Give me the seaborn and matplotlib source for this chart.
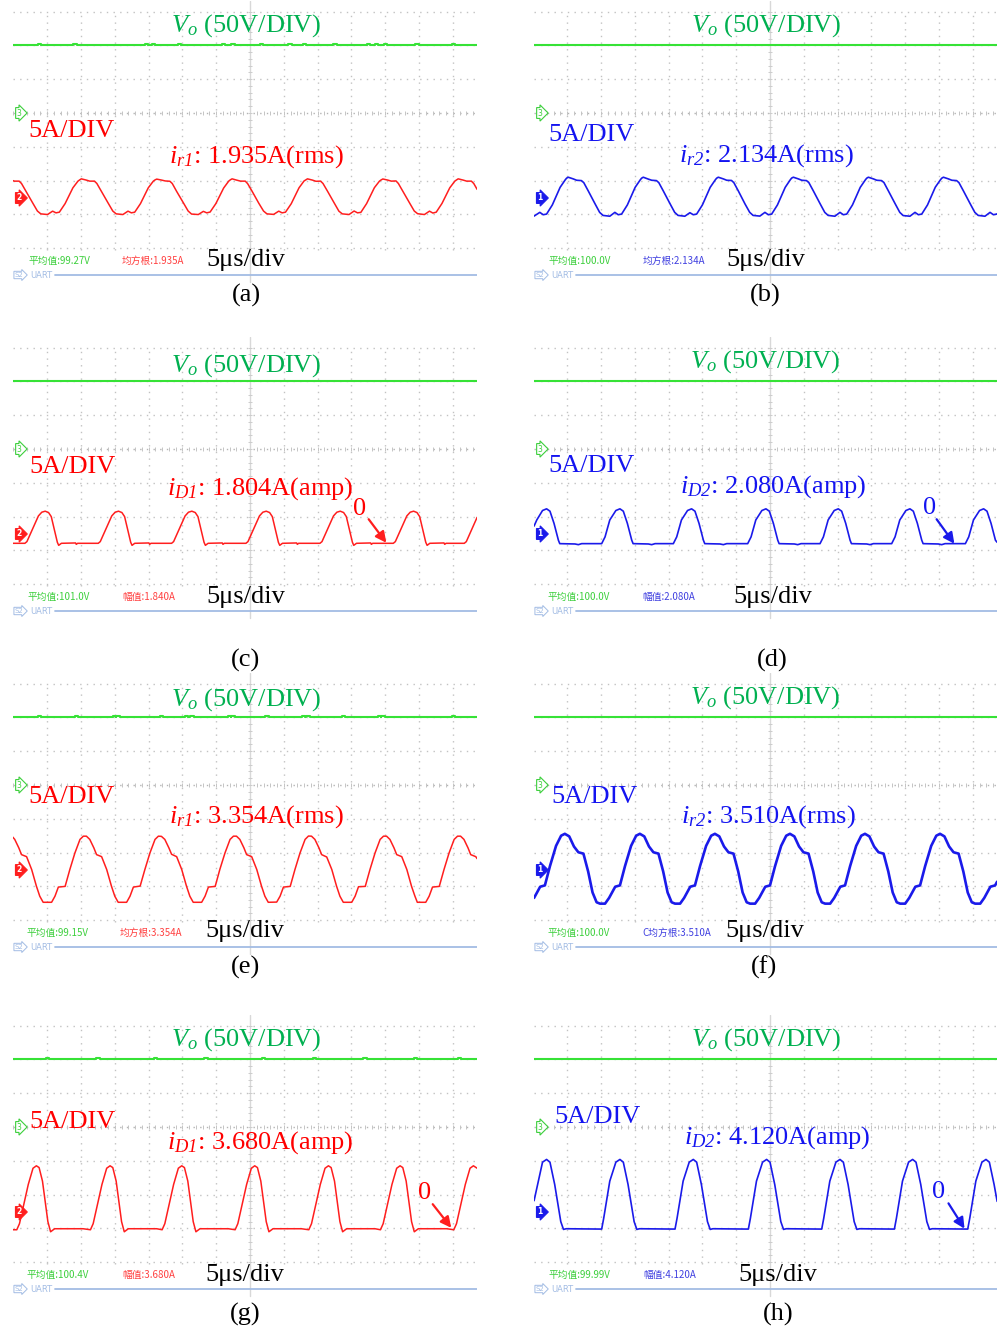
import numpy as np
import matplotlib
matplotlib.use("Agg")
import matplotlib.pyplot as plt
import seaborn as sns

sns.set_style("white")
plt.rcParams['font.family'] = ['Liberation Serif', 'DejaVu Serif']
plt.rcParams['mathtext.fontset'] = 'custom'
plt.rcParams['mathtext.rm'] = 'Liberation Serif'
plt.rcParams['mathtext.it'] = 'Liberation Serif:italic'
plt.rcParams['mathtext.sf'] = 'Liberation Serif:italic'
plt.rcParams['mathtext.bf'] = 'Liberation Serif:bold'

# ---------------- data (time in us, 0 = screen centre; current in A; voltage in V) ----------------
A_T = [-35.1, -34.85, -34.15, -33.8, -33.15, -32.15, -31.45, -30.95, -29.95, -29.2, -28.7, -28.2, -27.35, -26.2, -25.45,
       -25.2, -24.95, -24.2, -23.7, -23.0, -22.65, -22.0, -21.0, -20.3, -19.8, -18.8, -18.05, -17.55, -17.05, -16.2, -15.05, -14.3,
       -14.05, -13.8, -13.05, -12.55, -11.85, -11.5, -10.85, -9.85, -9.15, -8.65, -7.65, -6.9, -6.4, -5.9, -5.05, -3.9, -3.15,
       -2.9, -2.65, -1.9, -1.4, -0.7, -0.35, 0.3, 1.3, 2.0, 2.5, 3.5, 4.25, 4.75, 5.25, 6.1, 7.25, 8.0,
       8.25, 8.5, 9.25, 9.75, 10.45, 10.8, 11.45, 12.45, 13.15, 13.65, 14.65, 15.4, 15.9, 16.4, 17.25, 18.4, 19.15,
       19.4, 19.65, 20.4, 20.9, 21.6, 21.95, 22.6, 23.6, 24.3, 24.8, 25.8, 26.55, 27.05, 27.55, 28.4, 29.55, 30.3,
       30.55, 30.8, 31.55, 32.05, 32.75, 33.1, 33.6]
A_I = [2.5, 2.42, 2.42, 2.07, 0.94, -0.8, -2.0, -2.42, -2.52, -2.02, -2.27, -2.17, -0.9, 1.43, 2.42,
       2.6, 2.76, 2.57, 2.42, 2.42, 2.07, 0.94, -0.8, -2.0, -2.42, -2.52, -2.02, -2.27, -2.17, -0.9, 1.43, 2.42,
       2.6, 2.72, 2.57, 2.45, 2.4, 2.07, 0.9, -0.8, -2.0, -2.45, -2.52, -2.05, -2.27, -2.15, -0.9, 1.4, 2.42,
       2.62, 2.76, 2.55, 2.42, 2.42, 2.05, 0.94, -0.85, -2.0, -2.42, -2.5, -2.02, -2.27, -2.17, -0.92, 1.43, 2.45,
       2.6, 2.76, 2.57, 2.4, 2.42, 2.07, 0.96, -0.8, -2.02, -2.42, -2.52, -2.0, -2.27, -2.2, -0.9, 1.45, 2.42,
       2.6, 2.74, 2.57, 2.42, 2.45, 2.07, 0.94, -0.8, -2.0, -2.4, -2.52, -2.02, -2.3, -2.17, -0.88, 1.43, 2.42,
       2.6, 2.76, 2.57, 2.42, 2.42, 2.07, 1.2]

B_T = [-34.9, -34.05, -33.55, -33.05, -32.2, -31.05, -30.3,
       -30.1, -29.85, -29.1, -28.6, -27.9, -27.55, -26.9, -25.9, -25.2, -24.7, -23.7, -22.95, -22.45, -21.95, -21.1, -19.95, -19.2,
       -19.0, -18.75, -18.0, -17.5, -16.8, -16.45, -15.8, -14.8, -14.1, -13.6, -12.6, -11.85, -11.35, -10.85, -10.0, -8.85, -8.1,
       -7.9, -7.65, -6.9, -6.4, -5.7, -5.35, -4.7, -3.7, -3.0, -2.5, -1.5, -0.75, -0.25, 0.25, 1.1, 2.25, 3.0,
       3.2, 3.45, 4.2, 4.7, 5.4, 5.75, 6.4, 7.4, 8.1, 8.6, 9.6, 10.35, 10.85, 11.35, 12.2, 13.35, 14.1,
       14.3, 14.55, 15.3, 15.8, 16.5, 16.85, 17.5, 18.5, 19.2, 19.7, 20.7, 21.45, 21.95, 22.45, 23.3, 24.45, 25.2,
       25.4, 25.65, 26.4, 26.9, 27.6, 27.95, 28.6, 29.6, 30.3, 30.8, 31.8, 32.55, 33.05, 33.55, 33.6]
B_I = [-2.75, -2.2, -2.55, -2.45, -1.1, 1.5, 2.6,
       2.85, 3.0, 2.75, 2.55, 2.5, 2.2, 1.0, -0.9, -2.2, -2.65, -2.77, -2.2, -2.55, -2.45, -1.1, 1.5, 2.6,
       2.85, 3.0, 2.72, 2.55, 2.5, 2.2, 1.0, -0.9, -2.2, -2.65, -2.77, -2.25, -2.55, -2.45, -1.1, 1.5, 2.6,
       2.85, 3.0, 2.75, 2.55, 2.52, 2.2, 1.0, -0.95, -2.2, -2.65, -2.75, -2.2, -2.55, -2.45, -1.1, 1.5, 2.62,
       2.87, 3.0, 2.75, 2.55, 2.5, 2.2, 1.0, -0.9, -2.2, -2.65, -2.77, -2.2, -2.55, -2.45, -1.1, 1.5, 2.6,
       2.85, 3.0, 2.75, 2.55, 2.5, 2.22, 1.0, -0.9, -2.2, -2.67, -2.77, -2.2, -2.55, -2.45, -1.1, 1.52, 2.6,
       2.85, 3.0, 2.75, 2.55, 2.5, 2.2, 1.0, -0.9, -2.2, -2.65, -2.77, -2.2, -2.55, -2.45, -2.4]

C_T = [-35.1,
       -33.3, -33.0, -31.3, -30.8, -30.3, -29.8, -29.4, -28.5, -28.3, -27.9, -25.8, -25.7, -25.5,
       -22.45, -22.15, -20.45, -19.95, -19.45, -18.95, -18.55, -17.65, -17.45, -17.05, -14.95, -14.85, -14.65,
       -11.6, -11.3, -9.6, -9.1, -8.6, -8.1, -7.7, -6.8, -6.6, -6.2, -4.1, -4.0, -3.8,
       -0.6, -0.3, 1.4, 1.9, 2.4, 2.9, 3.3, 4.2, 4.4, 4.8, 6.9, 7.0, 7.2,
       10.35, 10.65, 12.35, 12.85, 13.35, 13.85, 14.25, 15.15, 15.35, 15.75, 17.85, 17.95, 18.15,
       21.2, 21.5, 23.2, 23.7, 24.2, 24.7, 25.1, 26.0, 26.2, 26.6, 28.7, 28.8, 29.0,
       31.7, 32.0, 33.6]
C_I = [-1.45,
       -1.45, -1.2, 2.6, 3.15, 3.3, 3.1, 2.5, -1.3, -1.75, -1.45, -1.4, -1.6, -1.45,
       -1.45, -1.2, 2.6, 3.15, 3.3, 3.1, 2.5, -1.3, -1.75, -1.45, -1.4, -1.6, -1.45,
       -1.45, -1.2, 2.6, 3.15, 3.3, 3.1, 2.5, -1.3, -1.75, -1.45, -1.4, -1.6, -1.45,
       -1.45, -1.2, 2.6, 3.15, 3.3, 3.1, 2.5, -1.3, -1.75, -1.45, -1.4, -1.6, -1.45,
       -1.45, -1.2, 2.6, 3.15, 3.3, 3.1, 2.5, -1.3, -1.75, -1.45, -1.4, -1.6, -1.45,
       -1.45, -1.2, 2.6, 3.15, 3.3, 3.1, 2.5, -1.3, -1.75, -1.45, -1.4, -1.6, -1.45,
       -1.45, -1.2, 2.4]

D_T = [-34.9, -34.5, -33.65, -33.05, -32.55, -31.95, -31.3, -31.1, -28.85, -28.35, -27.85,
       -24.9, -24.4, -23.7, -22.8, -22.2, -21.7, -21.1, -20.45, -20.25, -18.0, -17.5, -17.0,
       -14.3, -13.8, -13.1, -12.2, -11.6, -11.1, -10.5, -9.85, -9.65, -7.4, -6.9, -6.4,
       -3.3, -2.8, -2.1, -1.2, -0.6, -0.1, 0.5, 1.15, 1.35, 3.6, 4.1, 4.6,
       7.4, 7.9, 8.6, 9.5, 10.1, 10.6, 11.2, 11.85, 12.05, 14.3, 14.8, 15.3,
       18.0, 18.5, 19.2, 20.1, 20.7, 21.2, 21.8, 22.45, 22.65, 24.9, 25.4, 25.9,
       28.9, 29.4, 30.1, 31.0, 31.6, 32.1, 32.7, 33.35, 33.6]
D_I = [1.1, 2.0, 3.4, 3.65, 3.3, 1.5, -1.0, -1.5, -1.55, -1.65, -1.5,
       -1.5, -0.5, 2.0, 3.4, 3.65, 3.3, 1.5, -1.0, -1.5, -1.55, -1.65, -1.5,
       -1.5, -0.5, 2.0, 3.4, 3.65, 3.3, 1.5, -1.0, -1.5, -1.55, -1.65, -1.5,
       -1.5, -0.5, 2.0, 3.4, 3.65, 3.3, 1.5, -1.0, -1.5, -1.55, -1.65, -1.5,
       -1.5, -0.5, 2.0, 3.4, 3.65, 3.3, 1.5, -1.0, -1.5, -1.55, -1.65, -1.5,
       -1.5, -0.5, 2.0, 3.4, 3.65, 3.3, 1.5, -1.0, -1.5, -1.55, -1.65, -1.5,
       -1.5, -0.5, 2.0, 3.4, 3.65, 3.3, 1.5, -1.0, -1.3]

E_T = [-35.1, -34.8, -34.2, -33.8, -33.05, -32.3, -31.6, -31.1,
       -30.6, -29.35, -28.85, -28.35, -27.35, -26.65, -25.9, -25.15, -24.65, -24.2, -23.7, -23.1, -22.7, -21.95, -21.2, -20.5, -20.0,
       -19.5, -18.25, -17.75, -17.25, -16.25, -15.55, -14.8, -14.05, -13.55, -13.1, -12.6, -12.0, -11.6, -10.85, -10.1, -9.4, -8.9,
       -8.4, -7.15, -6.65, -6.15, -5.15, -4.45, -3.7, -2.95, -2.45, -2.0, -1.5, -0.9, -0.5, 0.25, 1.0, 1.7, 2.2,
       2.7, 3.95, 4.45, 4.95, 5.95, 6.65, 7.4, 8.15, 8.65, 9.1, 9.6, 10.2, 10.6, 11.35, 12.1, 12.8, 13.3,
       13.8, 15.05, 15.55, 16.05, 17.05, 17.75, 18.5, 19.25, 19.75, 20.2, 20.7, 21.3, 21.7, 22.45, 23.2, 23.9, 24.4,
       24.75, 26.0, 26.5, 27.0, 28.0, 28.7, 29.45, 30.2, 30.7, 31.15, 31.65, 32.25, 32.65, 33.4, 33.6]
E_I = [4.8, 4.45, 3.2, 2.2, 1.9, 0.0, -2.45, -3.95,
       -4.85, -4.85, -3.95, -2.6, -2.5, 0.0, 2.45, 4.45, 4.93, 4.93, 4.45, 3.2, 2.2, 1.9, 0.0, -2.45, -3.95,
       -4.85, -4.85, -3.95, -2.6, -2.45, 0.0, 2.45, 4.45, 4.93, 4.9, 4.45, 3.2, 2.25, 1.9, 0.0, -2.45, -3.95,
       -4.85, -4.85, -3.95, -2.6, -2.5, 0.05, 2.45, 4.45, 4.93, 4.93, 4.45, 3.2, 2.2, 1.9, 0.0, -2.45, -3.95,
       -4.85, -4.82, -3.95, -2.6, -2.5, 0.0, 2.45, 4.45, 4.95, 4.93, 4.45, 3.2, 2.2, 1.85, 0.0, -2.45, -3.95,
       -4.85, -4.85, -3.95, -2.55, -2.5, 0.0, 2.45, 4.45, 4.93, 4.93, 4.45, 3.2, 2.2, 1.9, 0.0, -2.5, -3.95,
       -4.85, -4.85, -3.95, -2.6, -2.5, 0.0, 2.45, 4.45, 4.93, 4.93, 4.45, 3.2, 2.2, 1.9, 1.6]

F_T = [-34.9, -34.0, -33.3, -32.55, -31.65, -30.9, -30.35, -29.7, -29.0, -28.35, -27.6, -26.9, -26.25,
       -25.65, -25.15, -24.4, -23.8, -22.9, -22.2, -21.45, -20.55, -19.8, -19.25, -18.6, -17.9, -17.25, -16.5, -15.8, -15.15,
       -14.55, -14.05, -13.3, -12.7, -11.8, -11.1, -10.35, -9.45, -8.7, -8.15, -7.5, -6.8, -6.15, -5.4, -4.7, -4.05,
       -3.45, -2.95, -2.2, -1.6, -0.7, 0.0, 0.75, 1.65, 2.4, 2.95, 3.6, 4.3, 4.95, 5.7, 6.4, 7.05,
       7.65, 8.15, 8.9, 9.5, 10.4, 11.1, 11.85, 12.75, 13.5, 14.05, 14.7, 15.4, 16.05, 16.8, 17.5, 18.15,
       18.75, 19.25, 20.0, 20.6, 21.5, 22.2, 22.95, 23.85, 24.6, 25.15, 25.8, 26.5, 27.15, 27.9, 28.6, 29.25,
       29.85, 30.35, 31.1, 31.7, 32.6, 33.3, 33.6]
F_I = [-4.2, -2.55, -2.35, 0.5, 3.5, 5.0, 5.28, 4.9, 3.4, 2.55, 2.35, -0.3, -3.4,
       -4.85, -5.05, -5.05, -4.2, -2.55, -2.35, 0.5, 3.5, 5.0, 5.28, 4.9, 3.4, 2.55, 2.35, -0.3, -3.4,
       -4.85, -5.05, -5.05, -4.2, -2.55, -2.35, 0.5, 3.5, 5.0, 5.28, 4.9, 3.4, 2.55, 2.35, -0.3, -3.4,
       -4.85, -5.05, -5.05, -4.2, -2.55, -2.35, 0.5, 3.5, 5.0, 5.28, 4.9, 3.4, 2.55, 2.35, -0.3, -3.4,
       -4.85, -5.05, -5.05, -4.2, -2.55, -2.35, 0.5, 3.5, 5.0, 5.28, 4.9, 3.4, 2.55, 2.35, -0.3, -3.4,
       -4.85, -5.05, -5.05, -4.2, -2.55, -2.35, 0.5, 3.5, 5.0, 5.28, 4.9, 3.4, 2.55, 2.35, -0.3, -3.4,
       -4.85, -5.05, -5.05, -4.2, -2.55, -2.35, -1.8]

G_T = [-35.1,
       -34.5, -34.1, -32.8, -32.1, -31.6, -31.2, -30.7, -29.9, -29.5, -28.9, -24.7,
       -23.6, -23.2, -21.9, -21.2, -20.7, -20.3, -19.8, -19.0, -18.6, -18.0, -13.8,
       -13.0, -12.6, -11.3, -10.6, -10.1, -9.7, -9.2, -8.4, -8.0, -7.4, -3.2,
       -2.2, -1.8, -0.5, 0.2, 0.7, 1.1, 1.6, 2.4, 2.8, 3.4, 7.6,
       8.7, 9.1, 10.4, 11.1, 11.6, 12.0, 12.5, 13.3, 13.7, 14.3, 18.5,
       19.3, 19.7, 21.0, 21.7, 22.2, 22.6, 23.1, 23.9, 24.3, 24.9, 29.1,
       30.15, 30.55, 31.85, 32.55, 33.05, 33.6]
G_I = [-2.7,
       -2.7, -1.8, 4.0, 6.4, 6.76, 6.5, 4.5, -1.5, -3.0, -2.55, -2.55,
       -2.7, -1.8, 4.0, 6.4, 6.76, 6.5, 4.5, -1.5, -3.0, -2.55, -2.55,
       -2.7, -1.8, 4.0, 6.4, 6.76, 6.5, 4.5, -1.5, -3.0, -2.55, -2.55,
       -2.7, -1.8, 4.0, 6.4, 6.76, 6.5, 4.5, -1.5, -3.0, -2.55, -2.55,
       -2.7, -1.8, 4.0, 6.4, 6.76, 6.5, 4.5, -1.5, -3.0, -2.55, -2.55,
       -2.7, -1.8, 4.0, 6.4, 6.76, 6.5, 4.5, -1.5, -3.0, -2.55, -2.55,
       -2.7, -1.8, 4.0, 6.4, 6.76, 6.4]

H_T = [-34.9, -33.65, -33.05, -32.55, -31.85, -30.95, -30.55, -30.15,
       -24.9, -24.6, -23.7, -22.8, -22.2, -21.7, -21.0, -20.1, -19.7, -19.3,
       -14.05, -13.75, -12.85, -11.95, -11.35, -10.85, -10.15, -9.25, -8.85, -8.45,
       -3.2, -2.9, -2.0, -1.1, -0.5, 0.0, 0.7, 1.6, 2.0, 2.4,
       7.65, 7.95, 8.85, 9.75, 10.35, 10.85, 11.55, 12.45, 12.85, 13.25,
       18.4, 18.7, 19.6, 20.5, 21.1, 21.6, 22.3, 23.2, 23.6, 24.0,
       29.25, 29.55, 30.45, 31.35, 31.95, 32.45, 33.15, 33.6]
H_I = [1.6, 7.3, 7.7, 7.3, 4.0, -1.5, -2.65, -2.55,
       -2.6, -1.0, 4.5, 7.3, 7.7, 7.3, 4.0, -1.5, -2.65, -2.55,
       -2.6, -1.0, 4.5, 7.3, 7.7, 7.3, 4.0, -1.5, -2.65, -2.55,
       -2.6, -1.0, 4.5, 7.3, 7.7, 7.3, 4.0, -1.5, -2.65, -2.55,
       -2.6, -1.0, 4.5, 7.3, 7.7, 7.3, 4.0, -1.5, -2.65, -2.55,
       -2.6, -1.0, 4.5, 7.3, 7.7, 7.3, 4.0, -1.5, -2.65, -2.55,
       -2.6, -1.0, 4.5, 7.3, 7.7, 7.3, 4.0, 1.5]

VO_LEVEL = 100.0
VO_BLIP = 2.5
BLIPS_A = [-31.1, -25.9, -15.3, -14.3, -10.4, -3.9, -2.5, 1.7, 5.9, 8.1, 12.6, 17.5, 18.7, 20.0, 24.7, 30.1]
BLIPS_E = [-31.1, -25.7, -20.0, -19.5, -13.1, -9.4, -8.6, -3.0, -2.5, 2.5, 7.9, 8.6, 13.8, 19.2, 19.7, 30.1]
BLIPS_G = [-30.0, -22.5, -14.0, -6.5, 2.0, 9.5, 17.0, 24.5, 31.0]

CAPTIONS = ["(a)", "(b)", "(c)", "(d)", "(e)", "(f)", "(g)", "(h)"]
CUR_LABELS = [r"$i_{\mathsf{r1}}$: 1.935A(rms)", r"$i_{\mathsf{r2}}$: 2.134A(rms)",
              r"$i_{\mathsf{D1}}$: 1.804A(amp)", r"$i_{\mathsf{D2}}$: 2.080A(amp)",
              r"$i_{\mathsf{r1}}$: 3.354A(rms)", r"$i_{\mathsf{r2}}$: 3.510A(rms)",
              r"$i_{\mathsf{D1}}$: 3.680A(amp)", r"$i_{\mathsf{D2}}$: 4.120A(amp)"]
STAT_V = ["平均值:99.27V", "平均值:100.0V", "平均值:101.0V", "平均值:100.0V",
          "平均值:99.15V", "平均值:100.0V", "平均值:100.4V", "平均值:99.99V"]
STAT_I = ["均方根:1.935A", "均方根:2.134A", "幅值:1.840A", "幅值:2.080A",
          "均方根:3.354A", "C均方根:3.510A", "幅值:3.680A", "幅值:4.120A"]

# ---------------- layout ----------------
W, H = 997, 1327
PX = 33.8                  # pixels per division
US_DIV, A_DIV, V_DIV = 5.0, 5.0, 50.0
CH_OFF = -2.5              # current channel ground (div)
COLS = {0: (13, 477, 250), 1: (534, 997, 770)}

RED_TXT, BLUE_TXT, GREEN_TXT = '#ff0000', '#1414f0', '#00b050'
RED_TR, BLUE_TR, GREEN_TR = '#ff1e1e', '#1a1aea', '#36e236'
STAT_GREEN, STAT_RED, STAT_BLUE = '#3ccf3c', '#ff4040', '#4040e0'
UART_C = '#a2bce4'
GRID_C = '#c2c2c2'

CJK = ['Noto Sans CJK SC', 'DejaVu Sans']

fig = plt.figure(figsize=(W / 100, H / 100), dpi=100)
fig.patch.set_facecolor('white')


def F(x, y):
    return (x / W, 1 - y / H)


def ftext(x, y, s, **kw):
    fx, fy = F(x, y)
    return fig.text(fx, fy, s, **kw)


def vo_trace(xlo, xhi, blips):
    t, v = [xlo], [VO_LEVEL]
    for b in blips:
        t += [b - 0.25, b - 0.25, b + 0.25, b + 0.25]
        v += [VO_LEVEL, VO_LEVEL + VO_BLIP, VO_LEVEL + VO_BLIP, VO_LEVEL]
    t.append(xhi)
    v.append(VO_LEVEL)
    return t, v


def draw_grid(ax, xlo, xhi):
    dot = (0, (1, 3.8))
    for k in range(-6, 7):
        if k == 0:
            continue
        ax.plot([k * US_DIV] * 2, [-4.05, 3.05], color=GRID_C, lw=1, ls=dot, zorder=1)
    for k in [3, 2, 1, -1, -2, -3, -4]:
        ax.plot([xlo, xhi], [k, k], color=GRID_C, lw=1, ls=dot, zorder=1)
    ax.plot([xlo, xhi], [0, 0], color='#b4b4b4', lw=1, ls=dot, zorder=1)
    ticks = np.arange(np.ceil(xlo), xhi, 1.0)
    ax.plot(ticks, np.zeros_like(ticks), ls='none', marker='|', ms=3, mew=0.7, color='#c4c4c4', zorder=1)
    ax.plot([0, 0], [-5.0, 3.3], color='#d8d8d8', lw=1.0, zorder=1)
    yt = np.arange(-4.0, 3.01, 0.2)
    ax.plot(np.zeros_like(yt), yt, ls='none', marker='_', ms=3, mew=0.7, color='#cccccc', zorder=1)


PANELS = [
    dict(col=0, cy=113, t=A_T, i=A_I, blips=BLIPS_A, vo=(246, 26), div=(71.5, 131), lab=(256.5, 157),
         us=(246, 260), st=(28, 122, 261), cap=(246, 295), zero=None, lw=1.1),
    dict(col=1, cy=113, t=B_T, i=B_I, blips=[], vo=(766.5, 26), div=(592, 135), lab=(766, 156),
         us=(766, 260), st=(548, 643, 261), cap=(765, 295), zero=None, lw=1.2),
    dict(col=0, cy=449, t=C_T, i=C_I, blips=[], vo=(246, 366), div=(72.5, 467), lab=(260, 489),
         us=(245.5, 597), st=(27, 122, 597), cap=(245, 660), zero=((360, 509), (367, 517), (388, 545)), lw=1.1),
    dict(col=1, cy=449, t=D_T, i=D_I, blips=[], vo=(765.5, 362), div=(592, 466), lab=(773, 487),
         us=(772.5, 597), st=(547, 642, 597), cap=(772, 660), zero=((930, 508), (935, 517), (956, 546)), lw=1.2),
    dict(col=0, cy=785, t=E_T, i=E_I, blips=BLIPS_E, vo=(246, 700), div=(71.5, 797), lab=(256.5, 817),
         us=(245, 931), st=(26, 120, 933), cap=(245, 967), zero=None, lw=1.1),
    dict(col=1, cy=785, t=F_T, i=F_I, blips=[], vo=(765.5, 698), div=(594, 797), lab=(768.5, 817),
         us=(765, 931), st=(547, 642, 933), cap=(764, 967), zero=None, lw=1.9),
    dict(col=0, cy=1127, t=G_T, i=G_I, blips=BLIPS_G, vo=(246, 1040), div=(72.5, 1122), lab=(260, 1143),
         us=(245, 1275), st=(26, 122, 1275), cap=(245, 1314), zero=((425, 1193), (431, 1202), (453, 1230)), lw=1.1),
    dict(col=1, cy=1127, t=H_T, i=H_I, blips=[], vo=(766, 1040), div=(597, 1117), lab=(777, 1138),
         us=(778, 1275), st=(548, 643, 1275), cap=(778, 1314), zero=((939, 1192), (947, 1201), (966, 1231)), lw=1.2),
]

BIG = 19

for k, p in enumerate(PANELS):
    x0, x1, cx = COLS[p['col']]
    cy = p['cy']
    top, bot = cy - 3.3 * PX, cy + 5.2 * PX
    ax = fig.add_axes([x0 / W, 1 - bot / H, (x1 - x0) / W, (bot - top) / H])
    xlo, xhi = (x0 - cx) / PX * US_DIV, (x1 - cx) / PX * US_DIV
    ax.set_xlim(xlo, xhi)
    ax.set_ylim(-5.2, 3.3)
    ax.axis('off')
    draw_grid(ax, xlo, xhi)

    red = p['col'] == 0
    tr_c = RED_TR if red else BLUE_TR
    tx_c = RED_TXT if red else BLUE_TXT
    st_c = STAT_RED if red else STAT_BLUE

    # Vo trace (green)
    vt, vv = vo_trace(xlo, xhi, p['blips'])
    sns.lineplot(x=vt, y=np.array(vv) / V_DIV, ax=ax, color=GREEN_TR, lw=1.5,
                 sort=False, estimator=None, legend=False, zorder=3)
    # current trace
    sns.lineplot(x=p['t'], y=np.array(p['i']) / A_DIV + CH_OFF, ax=ax, color=tr_c, lw=p['lw'],
                 sort=False, estimator=None, legend=False, zorder=3)

    # UART line
    uy = cy + 162
    ax.plot([(x0 + 42 - cx) / PX * US_DIV, xhi], [(cy - uy) / PX] * 2, color=UART_C, lw=1.3, zorder=2)

    # channel markers
    mx = x0 + 6
    ftext(mx, cy, '3', fontsize=5.5, color='#3ccf3c', ha='center', va='center', family='DejaVu Sans',
          bbox=dict(boxstyle='rarrow,pad=0.12', fc='white', ec='#3ccf3c', lw=0.8))
    ftext(mx, cy + 85, '2' if red else '1', fontsize=5.5, color='white', ha='center', va='center',
          family='DejaVu Sans', fontweight='bold',
          bbox=dict(boxstyle='rarrow,pad=0.12', fc=tr_c, ec=tr_c, lw=0.8))
    ftext(mx, uy, 'S2', fontsize=5, color=UART_C, ha='center', va='center', family='DejaVu Sans',
          bbox=dict(boxstyle='rarrow,pad=0.1', fc='white', ec=UART_C, lw=0.7))
    ftext(x0 + 17, uy, 'UART', fontsize=6, color=UART_C, ha='left', va='center', family='DejaVu Sans')

    # texts
    ftext(*p['vo'], r"$V_o$ (50V/DIV)", fontsize=BIG, color=GREEN_TXT, ha='center', va='center')
    ftext(*p['div'], "5A/DIV", fontsize=BIG, color=tx_c, ha='center', va='center')
    ftext(*p['lab'], CUR_LABELS[k], fontsize=BIG, color=tx_c, ha='center', va='center')
    ftext(*p['us'], "5μs/div", fontsize=BIG, color='black', ha='center', va='center')
    sx1, sx2, sy = p['st']
    ftext(sx1, sy, STAT_V[k], fontsize=7, color=STAT_GREEN, ha='left', va='center', family=CJK)
    ftext(sx2, sy, STAT_I[k], fontsize=7, color=st_c, ha='left', va='center', family=CJK)
    ftext(*p['cap'], CAPTIONS[k], fontsize=BIG, color='black', ha='center', va='center')

    if p['zero'] is not None:
        (zx, zy), (ax0, ay0), (ax1, ay1) = p['zero']
        ftext(zx, zy, "0", fontsize=BIG, color=tx_c, ha='center', va='center')
        fig.add_artist(matplotlib.patches.FancyArrowPatch(
            F(ax0, ay0), F(ax1, ay1), transform=fig.transFigure,
            arrowstyle='-|>', mutation_scale=16, color=tr_c, lw=1.6))

fig.savefig("out.png", dpi=100, facecolor='white')
